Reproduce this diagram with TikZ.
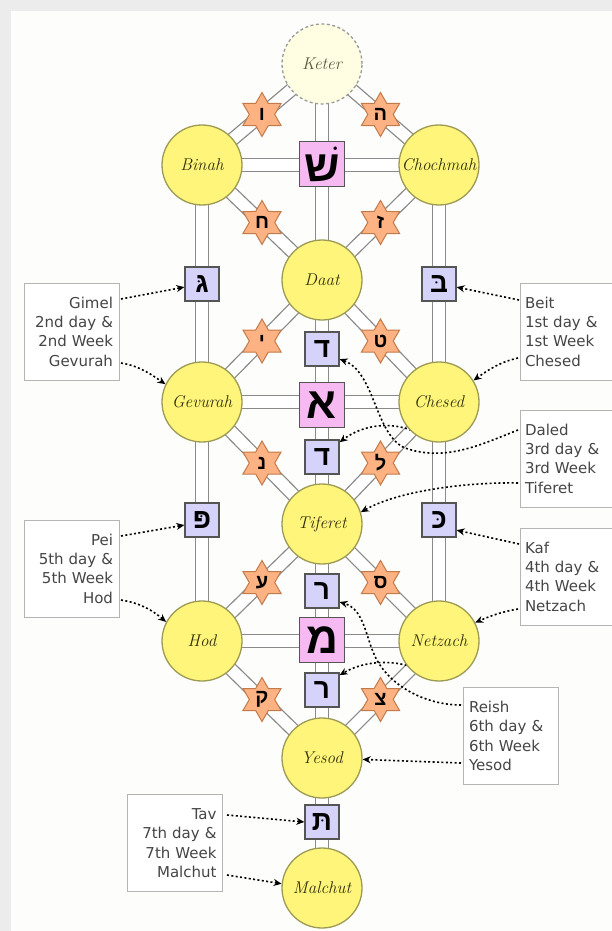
\documentclass[tikz,border=0pt]{standalone}
\usepackage{fontspec}
\TeXXeTstate=1
\newfontfamily\heb[Script=Hebrew]{Liberation Sans}
\newfontfamily\lblfont{DejaVu Sans}
\usetikzlibrary{shapes.geometric,arrows.meta,calc}
\pgfdeclarelayer{bglayer}
\pgfdeclarelayer{bandlayer}
\pgfdeclarelayer{arrowlayer}
\pgfsetlayers{bglayer,bandlayer,arrowlayer,main}
\definecolor{sefyel}{HTML}{FFF57A}
\definecolor{sefedge}{HTML}{9C9A55}
\definecolor{ketfill}{HTML}{FFFDE2}
\definecolor{ketedge}{HTML}{9A9A9A}
\definecolor{starfill}{HTML}{FDB283}
\definecolor{staredge}{HTML}{C27A48}
\definecolor{lav}{HTML}{D6D3FA}
\definecolor{pinkbox}{HTML}{F6B9F2}
\definecolor{boxedge}{HTML}{555555}
\definecolor{bandedge}{HTML}{8A8A8A}
\definecolor{lbltext}{HTML}{454545}
\definecolor{lbledge}{HTML}{B5B5B5}
\definecolor{pagebg}{HTML}{ECECEC}
\definecolor{panel}{HTML}{FDFDFB}
\definecolor{namecol}{HTML}{2E2E0A}
\begin{document}
\begin{tikzpicture}[x=1pt,y=-1pt,
  sef/.style={circle, minimum size=80pt, inner sep=0pt, fill=sefyel, draw=sefedge, line width=1.3pt,
    font=\fontsize{17}{19}\selectfont\itshape, text=namecol},
  ket/.style={sef, fill=ketfill, draw=ketedge, dash pattern=on 3pt off 2.5pt, text=namecol!80},
  band/.style={draw=bandedge, line width=1.3pt, double=white, double distance=11.5pt},
  hexstar/.style={star, star points=6, star point ratio=1.732, minimum size=44pt, inner sep=0pt,
    fill=starfill, draw=staredge, line width=1pt},
  starltr/.style={font=\heb\bfseries\fontsize{20}{20}\selectfont, inner sep=0pt},
  lavbox/.style={rectangle, minimum size=34pt, inner sep=0pt, fill=lav, draw=boxedge, line width=1.2pt,
    font=\heb\bfseries\fontsize{28}{28}\selectfont},
  pinkbx/.style={lavbox, minimum size=45pt, fill=pinkbox, font=\heb\bfseries\fontsize{44}{44}\selectfont},
  lblbox/.style={draw=lbledge, line width=0.8pt, fill=white, minimum width=95pt, minimum height=97pt,
    text width=83pt, inner sep=6pt, font=\lblfont\fontsize{15}{19.3}\selectfont, text=lbltext},
  lblL/.style={lblbox, align=right},
  lblR/.style={lblbox, align=left, minimum width=98pt, text width=88pt, inner xsep=5pt},
  ptr/.style={black, line width=1.6pt, dash pattern=on 2pt off 2.4pt, -{Stealth[length=8pt,width=7pt]}}
]
\useasboundingbox (0,0) rectangle (612,931);
\begin{pgfonlayer}{bglayer}
\fill[pagebg] (0,0) rectangle (612,931);
\fill[panel] (11,11) rectangle (612,931);
\end{pgfonlayer}

% sefirot
\node[ket] (keter) at (322,64) {Keter};
\node[sef] (binah) at (202,165) {Binah};
\node[sef] (chochmah) at (439,165) {Chochmah};
\node[sef] (daat) at (322,280) {Daat};
\node[sef] (gevurah) at (202,402) {Gevurah};
\node[sef] (chesed) at (439,402) {Chesed};
\node[sef] (tiferet) at (322,524) {Tiferet};
\node[sef] (hod) at (202,641) {Hod};
\node[sef] (netzach) at (439,641) {Netzach};
\node[sef] (yesod) at (322,758) {Yesod};
\node[sef] (malchut) at (322,888) {Malchut};

% letter boxes
\node[pinkbx] (shin) at (322,164) {\beginR שׁ\endR};
\node[pinkbx] (aleph) at (322,405) {\beginR א\endR};
\node[pinkbx] (mem) at (322,640) {\beginR מ\endR};
\node[lavbox] (gimelbx) at (202,284) {\beginR גּ\endR};
\node[lavbox] (beitbx) at (439,284) {\beginR בּ\endR};
\node[lavbox] (dal1) at (322,349) {\beginR ד\endR};
\node[lavbox] (dal2) at (322,457) {\beginR ד\endR};
\node[lavbox] (peibx) at (202,520) {\beginR פּ\endR};
\node[lavbox] (kafbx) at (439,520) {\beginR כּ\endR};
\node[lavbox] (resh1) at (322,591) {\beginR ר\endR};
\node[lavbox] (resh2) at (322,690) {\beginR ר\endR};
\node[lavbox] (tavbx) at (322,822) {\beginR תּ\endR};

% stars
\node[hexstar] (s1) at ($(keter)!.5!(binah)$) {};
\node[hexstar] (s2) at ($(keter)!.5!(chochmah)$) {};
\node[hexstar] (s3) at ($(binah)!.5!(daat)$) {};
\node[hexstar] (s4) at ($(chochmah)!.5!(daat)$) {};
\node[hexstar] (s5) at ($(daat)!.5!(gevurah)$) {};
\node[hexstar] (s6) at ($(daat)!.5!(chesed)$) {};
\node[hexstar] (s7) at ($(gevurah)!.5!(tiferet)$) {};
\node[hexstar] (s8) at ($(chesed)!.5!(tiferet)$) {};
\node[hexstar] (s9) at ($(tiferet)!.5!(hod)$) {};
\node[hexstar] (s10) at ($(tiferet)!.5!(netzach)$) {};
\node[hexstar] (s11) at ($(hod)!.5!(yesod)$) {};
\node[hexstar] (s12) at ($(netzach)!.5!(yesod)$) {};
\node[starltr] (t1) at (s1) {\beginR ו\endR};
\node[starltr] (t2) at (s2) {\beginR ה\endR};
\node[starltr] (t3) at (s3) {\beginR ח\endR};
\node[starltr] (t4) at (s4) {\beginR ז\endR};
\node[starltr] (t5) at (s5) {\beginR י\endR};
\node[starltr] (t6) at (s6) {\beginR ט\endR};
\node[starltr] (t7) at (s7) {\beginR נ\endR};
\node[starltr] (t8) at (s8) {\beginR ל\endR};
\node[starltr] (t9) at (s9) {\beginR ע\endR};
\node[starltr] (t10) at (s10) {\beginR ס\endR};
\node[starltr] (t11) at (s11) {\beginR ק\endR};
\node[starltr] (t12) at (s12) {\beginR צ\endR};

% label boxes
\node[lblL] (lgimel) at (71.5,331.5) {Gimel\\2nd day \&\\2nd Week\\Gevurah};
\node[lblR] (lbeit) at (569,331.5) {Beit\\1st day \&\\1st Week\\Chesed};
\node[lblR] (ldaled) at (569,458.5) {Daled\\3rd day \&\\3rd Week\\Tiferet};
\node[lblL] (lpei) at (71.5,568.5) {Pei\\5th day \&\\5th Week\\Hod};
\node[lblR] (lkaf) at (569,576.5) {Kaf\\4th day \&\\4th Week\\Netzach};
\node[lblbox, align=left] (lreish) at (510.5,736) {Reish\\6th day \&\\6th Week\\Yesod};
\node[lblL] (ltav) at (175,843) {Tav\\7th day \&\\7th Week\\Malchut};

% arrow start points
\coordinate (aG1) at (121,299);
\coordinate (aG2) at (121,363);
\coordinate (aB1) at (519,300);
\coordinate (aB2) at (518,358);
\coordinate (aD1) at (518,430);
\coordinate (aD2) at (415,432);
\coordinate (aD3) at (518,483);
\coordinate (aP1) at (121,536);
\coordinate (aP2) at (121,600);
\coordinate (aK1) at (519,544);
\coordinate (aK2) at (518,609);
\coordinate (aR1) at (461,705);
\coordinate (aR2) at (415,668);
\coordinate (aR3) at (461,763);
\coordinate (aT1) at (227,815);
\coordinate (aT2) at (227,875);

\begin{pgfonlayer}{bandlayer}
\foreach \a/\b in {keter/binah, keter/chochmah, keter/daat, binah/chochmah, binah/daat, chochmah/daat,
  binah/gevurah, chochmah/chesed, daat/gevurah, daat/chesed, daat/tiferet, gevurah/chesed,
  gevurah/tiferet, chesed/tiferet, gevurah/hod, chesed/netzach, tiferet/hod, tiferet/netzach,
  tiferet/yesod, hod/netzach, hod/yesod, netzach/yesod, yesod/malchut}
  \draw[band] (\a.center) -- (\b.center);
\end{pgfonlayer}

\begin{pgfonlayer}{arrowlayer}
\draw[ptr] (aG1) -- (gimelbx.190);
\draw[ptr] (aG2) .. controls (140,366) and (152,375) .. (gevurah.154);
\draw[ptr] (aB1) -- (beitbx.-10);
\draw[ptr] (aB2) .. controls (500,362) and (488,370) .. (chesed.32);
\draw[ptr] (aD1) .. controls (480,445) and (445,462) .. (405,448)
                  .. controls (375,435) and (375,372) .. (dal1.-30);
\draw[ptr] (aD2) .. controls (395,422) and (365,423) .. (dal2.40);
\draw[ptr] (aD3) .. controls (470,482) and (400,490) .. (tiferet.17);
\draw[ptr] (aP1) -- (peibx.196);
\draw[ptr] (aP2) .. controls (140,603) and (152,610) .. (hod.152);
\draw[ptr] (aK1) -- (kafbx.-30);
\draw[ptr] (aK2) .. controls (500,612) and (488,617) .. (netzach.27);
\draw[ptr] (aR1) .. controls (430,705) and (395,690) .. (378,662)
                  .. controls (365,640) and (366,610) .. (resh1.-32);
\draw[ptr] (aR2) .. controls (395,660) and (365,660) .. (resh2.40);
\draw[ptr] (aR3) -- (yesod.-2);
\draw[ptr] (aT1) -- (tavbx.west);
\draw[ptr] (aT2) -- (malchut.174);
\end{pgfonlayer}
\end{tikzpicture}
\end{document}
